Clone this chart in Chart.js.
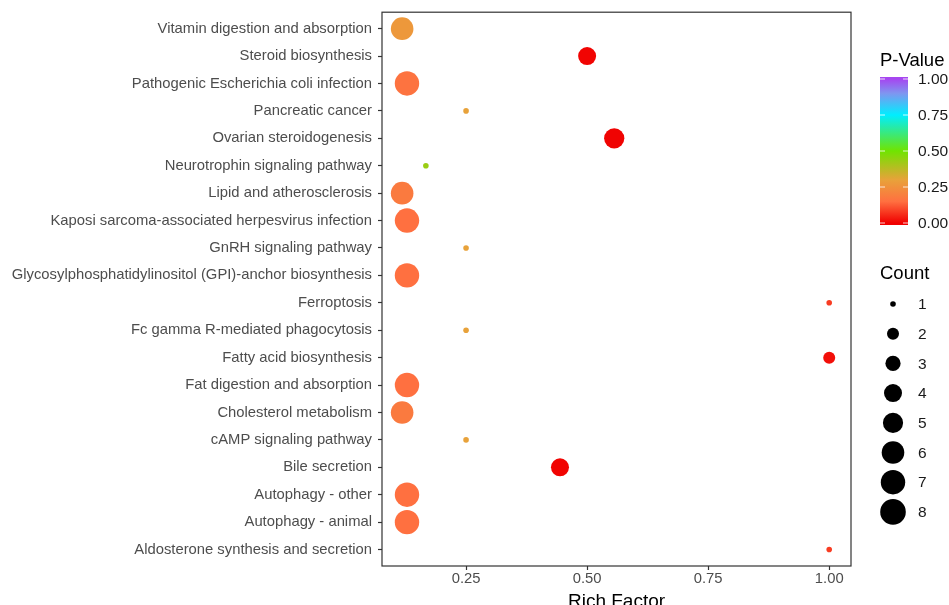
<!DOCTYPE html>
<html>
<head>
<meta charset="utf-8">
<script src="https://cdn.jsdelivr.net/npm/chart.js@4.4.1/dist/chart.umd.min.js"></script>
<style>
  body { margin: 0; background: #fff; }
  #wrap { width: 949px; height: 605px; }
</style>
</head>
<body>
<div id="wrap"><canvas id="myChart" width="949" height="605"></canvas></div>
<script>
// pathways, top to bottom
const pathways = [
    'Vitamin digestion and absorption',
    'Steroid biosynthesis',
    'Pathogenic Escherichia coli infection',
    'Pancreatic cancer',
    'Ovarian steroidogenesis',
    'Neurotrophin signaling pathway',
    'Lipid and atherosclerosis',
    'Kaposi sarcoma-associated herpesvirus infection',
    'GnRH signaling pathway',
    'Glycosylphosphatidylinositol (GPI)-anchor biosynthesis',
    'Ferroptosis',
    'Fc gamma R-mediated phagocytosis',
    'Fatty acid biosynthesis',
    'Fat digestion and absorption',
    'Cholesterol metabolism',
    'cAMP signaling pathway',
    'Bile secretion',
    'Autophagy - other',
    'Autophagy - animal',
    'Aldosterone synthesis and secretion'
];
const richFactor = [0.118, 0.5, 0.128, 0.25, 0.556, 0.167, 0.118, 0.128, 0.25, 0.128,
                    1.0, 0.25, 1.0, 0.128, 0.118, 0.25, 0.444, 0.128, 0.128, 1.0];
const geneCount  = [6, 4, 7, 1, 5, 1, 6, 7, 1, 7,
                    1, 1, 2, 7, 6, 1, 4, 7, 7, 1];
const pValue     = [0.27, 0.005, 0.16, 0.30, 0.004, 0.43, 0.18, 0.15, 0.30, 0.15,
                    0.08, 0.30, 0.02, 0.15, 0.18, 0.30, 0.005, 0.15, 0.15, 0.08];

const xTicks = [0.25, 0.5, 0.75, 1.0];
const pTicks = [0, 0.25, 0.5, 0.75, 1.0];
const countLegend = [1, 2, 3, 4, 5, 6, 7, 8];

// styles
const countRadius = [2.8, 6, 7.6, 9, 10.1, 11.3, 12.2, 12.8];
const pStops  = [0, 0.15, 0.3, 0.5, 0.75, 0.9, 1];
const pColors = ['#f00000', '#ff7040', '#e8a23a', '#70e400', '#00eeff', '#7f96f0', '#a646f0'];
const fontFam = '"Liberation Sans", Arial, sans-serif';

function hexToRgb(h) {
    return [parseInt(h.substr(1, 2), 16), parseInt(h.substr(3, 2), 16), parseInt(h.substr(5, 2), 16)];
}
function pColor(p) {
    for (let i = 1; i < pStops.length; i++) {
        if (p <= pStops[i]) {
            const t = (p - pStops[i - 1]) / (pStops[i] - pStops[i - 1]);
            const a = hexToRgb(pColors[i - 1]), b = hexToRgb(pColors[i]);
            const c = a.map((v, k) => Math.round(v + (b[k] - v) * t));
            return 'rgb(' + c.join(',') + ')';
        }
    }
    return pColors[pColors.length - 1];
}

const points = pathways.map((name, i) => ({x: richFactor[i], y: i, r: countRadius[geneCount[i] - 1]}));

// panel border + the two legends on the right
const extras = {
    id: 'extras',
    afterDraw(chart) {
        const ctx = chart.ctx;
        const a = chart.chartArea;
        ctx.save();
        ctx.strokeStyle = '#333333';
        ctx.lineWidth = 1.2;
        ctx.strokeRect(a.left, a.top, a.right - a.left, a.bottom - a.top);

        // P-Value colour bar
        const barX = 880, barW = 28, barTop = 77, barBot = 225;
        const y0 = 223, y1 = 79;   // where 0 and 1 sit
        ctx.fillStyle = '#000';
        ctx.font = '18.5px ' + fontFam;
        ctx.textBaseline = 'alphabetic';
        ctx.textAlign = 'left';
        ctx.fillText('P-Value', 880, 66);
        const grad = ctx.createLinearGradient(0, y0, 0, y1);
        pStops.forEach((s, i) => grad.addColorStop(s, pColors[i]));
        ctx.fillStyle = grad;
        ctx.fillRect(barX, barTop, barW, barBot - barTop);
        ctx.font = '15.5px ' + fontFam;
        ctx.textBaseline = 'middle';
        pTicks.forEach(p => {
            const y = y0 - p * (y0 - y1);
            ctx.strokeStyle = 'rgba(255,255,255,0.8)';
            ctx.lineWidth = 1;
            ctx.beginPath();
            ctx.moveTo(barX, y); ctx.lineTo(barX + 5, y);
            ctx.moveTo(barX + barW - 5, y); ctx.lineTo(barX + barW, y);
            ctx.stroke();
            ctx.fillStyle = '#1a1a1a';
            ctx.fillText(p.toFixed(2), 918, y + 1);
        });

        // Count size legend
        ctx.fillStyle = '#000';
        ctx.font = '18.5px ' + fontFam;
        ctx.textBaseline = 'alphabetic';
        ctx.fillText('Count', 880, 279);
        ctx.font = '15.5px ' + fontFam;
        ctx.textBaseline = 'middle';
        countLegend.forEach((c, i) => {
            const y = 304 + i * 29.7;
            ctx.fillStyle = '#000';
            ctx.beginPath();
            ctx.arc(893, y, countRadius[c - 1], 0, Math.PI * 2);
            ctx.fill();
            ctx.fillStyle = '#1a1a1a';
            ctx.fillText(String(c), 918, y + 1);
        });
        ctx.restore();
    }
};

const ctx = document.getElementById('myChart').getContext('2d');
const myChart = new Chart(ctx, {
    type: 'bubble',
    data: {
        datasets: [{
            data: points,
            backgroundColor: pathways.map((n, i) => pColor(pValue[i])),
            borderWidth: 0,
            hoverBorderWidth: 0
        }]
    },
    options: {
        responsive: false,
        animation: false,
        layout: {padding: {top: 11, right: 98, left: 0, bottom: 0}},
        plugins: {
            legend: {display: false},
            tooltip: {enabled: false}
        },
        scales: {
            x: {
                type: 'linear',
                min: 0.0764,
                max: 1.045,
                afterBuildTicks: s => { s.ticks = xTicks.map(v => ({value: v})); },
                afterFit: s => { s.height = 39; s.paddingLeft = 0; s.paddingRight = 0; },
                ticks: {
                    callback: v => v.toFixed(2),
                    font: {family: fontFam, size: 14.8},
                    color: '#4d4d4d',
                    padding: 0,
                    maxRotation: 0
                },
                grid: {drawOnChartArea: false, tickLength: 4, tickColor: '#333333', tickWidth: 1.2},
                border: {display: false},
                title: {
                    display: true,
                    text: 'Rich Factor',
                    font: {family: fontFam, size: 19},
                    color: '#000',
                    padding: {top: 0, bottom: -8}
                }
            },
            y: {
                type: 'linear',
                reverse: true,
                min: -0.6,
                max: pathways.length - 0.4,
                afterBuildTicks: s => { s.ticks = pathways.map((n, i) => ({value: i})); },
                afterFit: s => { s.width = 382; s.paddingTop = 0; s.paddingBottom = 0; },
                ticks: {
                    callback: v => pathways[v],
                    autoSkip: false,
                    font: {family: fontFam, size: 14.8},
                    color: '#4d4d4d',
                    padding: 6
                },
                grid: {drawOnChartArea: false, tickLength: 4, tickColor: '#333333', tickWidth: 1.2},
                border: {display: false}
            }
        }
    },
    plugins: [extras]
});
</script>
</body>
</html>
